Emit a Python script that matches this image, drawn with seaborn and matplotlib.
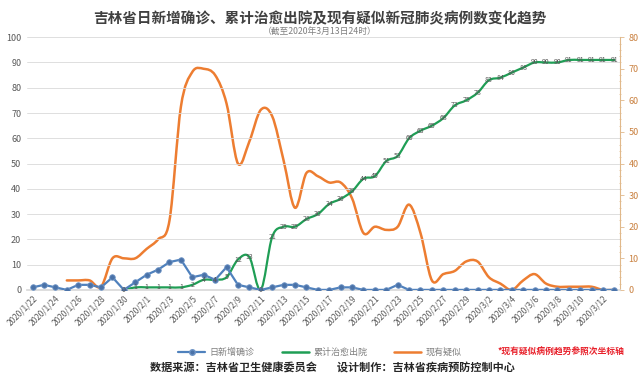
import numpy as np
import pandas as pd
import matplotlib
matplotlib.use("Agg")
import matplotlib.pyplot as plt
from matplotlib.path import Path
from matplotlib.patches import PathPatch
from matplotlib.lines import Line2D
import seaborn as sns

sns.set_theme(style="white")
plt.rcParams['font.family'] = ['Noto Sans CJK SC', 'DejaVu Sans']

# dates 2020/1/22 .. 2020/3/13
dates = pd.date_range("2020-01-22", "2020-03-13", freq="D")
date_labels = [f"{d.year}/{d.month}/{d.day}" for d in dates]

# 日新增确诊
new_confirmed = [1, 2, 1, 0, 2, 2, 1, 5, 0, 3, 6, 8, 11, 12, 5, 6, 4, 9, 2, 1,
                 0, 1, 2, 2, 1, 0, 0, 1, 1, 0, 0, 0, 2, 0, 0, 0, 0, 0, 0, 0,
                 0, 0, 0, 0, 0, 0, 0, 0, 0, 0, 0, 0]

# 累计治愈出院 (starts 1/30)
recovered = [np.nan] * 8 + [0, 1, 1, 1, 1, 1, 2, 4, 4, 5, 12, 13, 0, 21, 25, 25,
                            28, 30, 34, 36, 39, 44, 45, 51, 53, 60, 63, 65, 68, 73,
                            75, 78, 83, 84, 86, 88, 90, 90, 90, 91, 91, 91, 91, 91]

# 现有疑似 (secondary axis, starts 1/25)
suspected = [np.nan] * 3 + [3, 3, 3, 1, 10, 10, 10, 13, 16, 22, 58, 69, 70, 68, 59,
                            40, 47, 57, 55, 41, 26, 37, 36, 34, 34, 29, 18, 20, 19,
                            20, 27, 18, 3, 5, 6, 9, 9, 4, 2, 0, 3, 5, 2, 1, 1, 1, 1,
                            0, 0]

df = pd.DataFrame({
    "idx": np.arange(len(dates)),
    "new": new_confirmed,
    "rec": recovered,
    "sus": suspected,
})

BLUE = "#4F81BD"
GREEN = "#1F9E55"
ORANGE = "#ED7D31"
GRAY = "#595959"


def smooth_patch(x, y, color, lw):
    # Excel style smoothed line: Catmull-Rom as cubic Bezier
    x = np.asarray(x, float)
    y = np.asarray(y, float)
    n = len(x)
    verts = [(x[0], y[0])]
    codes = [Path.MOVETO]
    for i in range(n - 1):
        p0 = np.array([x[max(i - 1, 0)], y[max(i - 1, 0)]])
        p1 = np.array([x[i], y[i]])
        p2 = np.array([x[i + 1], y[i + 1]])
        p3 = np.array([x[min(i + 2, n - 1)], y[min(i + 2, n - 1)]])
        c1 = p1 + (p2 - p0) / 6
        c2 = p2 - (p3 - p1) / 6
        verts += [tuple(c1), tuple(c2), tuple(p2)]
        codes += [Path.CURVE4] * 3
    return PathPatch(Path(verts, codes), facecolor="none", edgecolor=color,
                     lw=lw, capstyle="round", joinstyle="round")


fig = plt.figure(figsize=(6.4, 3.76), dpi=100)
ax = fig.add_axes([0.042, 0.229, 0.927, 0.672])
ax2 = ax.twinx()

# left axis
ax.set_xlim(-0.5, len(dates) - 0.5)
ax.set_ylim(0, 100)
ax.set_yticks(range(0, 101, 10))
ax.yaxis.grid(True, color="#D9D9D9", lw=0.6)
ax.set_axisbelow(True)
for s in ["left", "top", "right"]:
    ax.spines[s].set_visible(False)
ax.spines["bottom"].set_color("#D9D9D9")
ax.tick_params(axis="y", labelsize=6.5, labelcolor=GRAY, length=0, pad=4)
ax.set_xticks(df["idx"][::2])
ax.set_xticklabels(date_labels[::2], rotation=45, ha="right",
                   rotation_mode="anchor", fontsize=6, color=GRAY)
ax.tick_params(axis="x", length=0, pad=3)
ax.set_xlabel("")
ax.set_ylabel("")

# green cumulative recovered
g = df.dropna(subset=["rec"])
ax.add_patch(smooth_patch(g["idx"], g["rec"], GREEN, 1.6))
for xi, yi in zip(g["idx"], g["rec"]):
    ax.text(xi, yi, f"{int(yi)}", fontsize=5, color="#555555",
            ha="center", va="center", zorder=5)

# blue daily new confirmed
sns.lineplot(data=df, x="idx", y="new", ax=ax, color=BLUE, lw=1.6,
             marker="o", markersize=4, markerfacecolor="#4A72A8",
             markeredgecolor="#6F95C6", markeredgewidth=0.6, zorder=4)
ax.set_xlabel("")
ax.set_ylabel("")

# orange suspected on secondary axis
s = df.dropna(subset=["sus"])
ax2.add_patch(smooth_patch(s["idx"], s["sus"], ORANGE, 1.8))
ax2.set_ylim(0, 80)
ax2.set_yticks(range(0, 81, 10))
ax2.set_yticks(range(0, 81, 2), minor=True)
ax2.grid(False)
for sp in ["left", "top", "bottom"]:
    ax2.spines[sp].set_visible(False)
ax2.spines["right"].set_color("#E0B88A")
ax2.spines["right"].set_linewidth(0.8)
ax2.tick_params(axis="y", which="major", labelsize=6.5, labelcolor="#C9803F",
                color="#E0B88A", length=3, width=0.6, direction="out", pad=3)
ax2.tick_params(axis="y", which="minor", color="#E0B88A", length=1.5,
                width=0.5, direction="inout")
ax.set_zorder(ax2.get_zorder() + 1)
ax.patch.set_visible(False)

# titles
fig.text(0.5, 0.952, "吉林省日新增确诊、累计治愈出院及现有疑似新冠肺炎病例数变化趋势",
         ha="center", va="center", fontsize=10.5, fontweight="bold", color="#404040")
fig.text(0.5, 0.915, "（截至2020年3月13日24时）", ha="center", va="center",
         fontsize=6.3, color="#7F7F7F")

# legend
handles = [
    Line2D([], [], color=BLUE, lw=1.6, marker="o", markersize=4,
           markerfacecolor="#4A72A8", markeredgecolor="#6F95C6"),
    Line2D([], [], color=GREEN, lw=1.8),
    Line2D([], [], color=ORANGE, lw=1.8),
]
fig.legend(handles, ["日新增确诊", "累计治愈出院", "现有疑似"], ncol=3,
           loc="center", bbox_to_anchor=(0.5, 0.063), frameon=False,
           fontsize=6.5, labelcolor="#7F7F7F", handlelength=3,
           columnspacing=3, handletextpad=0.5)
fig.text(0.975, 0.063, "*现有疑似病例趋势参照次坐标轴", ha="right", va="center",
         fontsize=6.3, fontweight="bold", color="#E8202A")
fig.text(0.52, 0.022, "数据来源：吉林省卫生健康委员会        设计制作：吉林省疾病预防控制中心",
         ha="center", va="center", fontsize=8, fontweight="bold", color="#262626")

fig.savefig("out.png", dpi=100)
